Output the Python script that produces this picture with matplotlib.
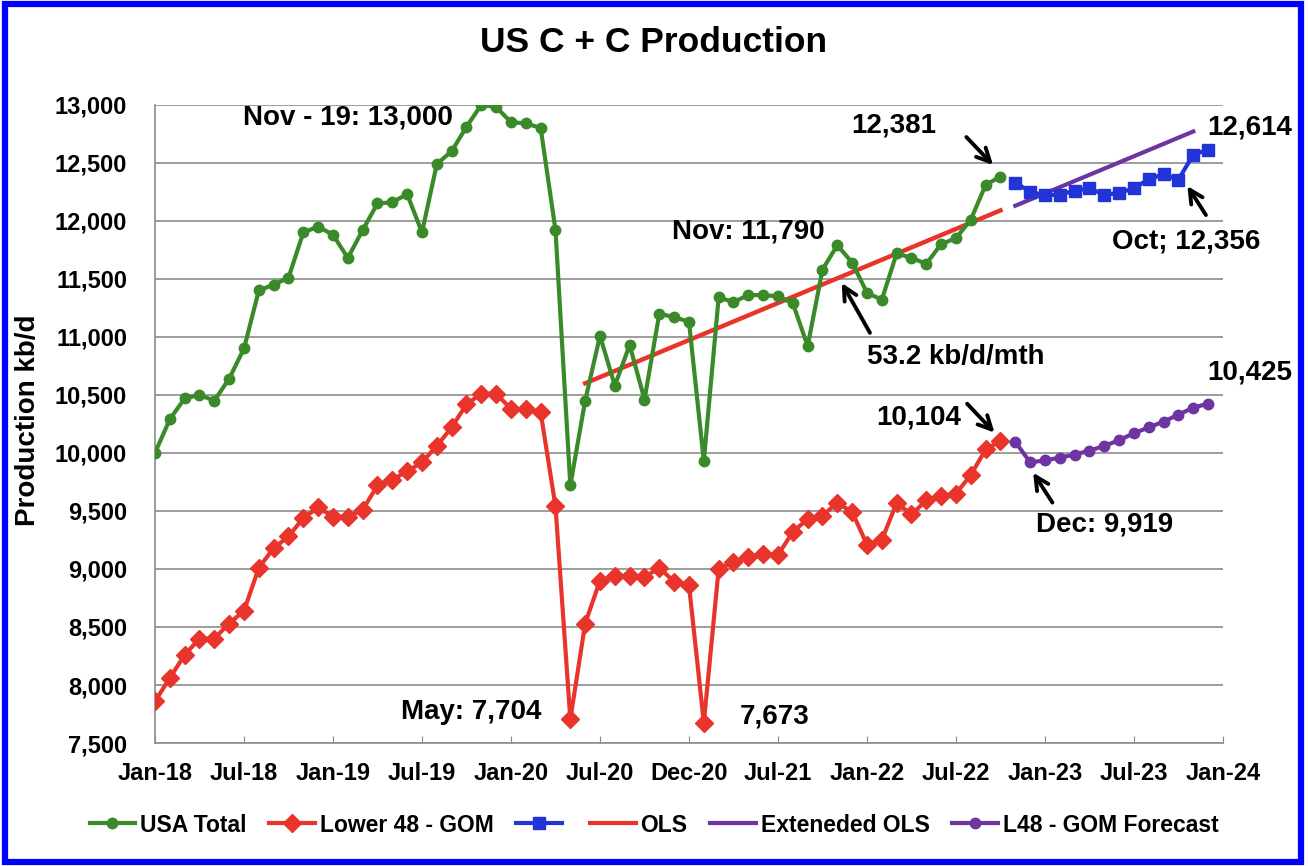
import matplotlib
matplotlib.use('Agg')
import matplotlib.pyplot as plt
from matplotlib.patches import Rectangle
from matplotlib.lines import Line2D

plt.rcParams['font.family'] = ['Liberation Sans', 'DejaVu Sans']
plt.rcParams['font.weight'] = 'bold'

# month index 0 = Jan-18
tick_pos = [0, 6, 12, 18, 24, 30, 36, 42, 48, 54, 60, 66, 72]
tick_labels = ['Jan-18', 'Jul-18', 'Jan-19', 'Jul-19', 'Jan-20', 'Jul-20', 'Dec-20',
               'Jul-21', 'Jan-22', 'Jul-22', 'Jan-23', 'Jul-23', 'Jan-24']

usa_total = [10000, 10290, 10470, 10500, 10450, 10640, 10900, 11400, 11450, 11510,
             11900, 11950, 11880, 11680, 11920, 12150, 12160, 12230, 11900, 12490,
             12600, 12810, 13000, 12980, 12850, 12840, 12800, 11920, 9720, 10450,
             11010, 10580, 10930, 10460, 11200, 11170, 11130, 9930, 11340, 11300,
             11360, 11360, 11350, 11290, 10920, 11580, 11790, 11640, 11380, 11320,
             11720, 11680, 11630, 11800, 11850, 12010, 12310, 12381]

l48_gom = [7860, 8060, 8260, 8400, 8400, 8530, 8640, 9010, 9180, 9280,
           9440, 9530, 9450, 9450, 9510, 9720, 9770, 9840, 9920, 10060,
           10220, 10420, 10510, 10510, 10380, 10375, 10350, 9540, 7704, 8530,
           8900, 8940, 8940, 8930, 9010, 8890, 8860, 7673, 9000, 9060,
           9100, 9130, 9120, 9320, 9430, 9460, 9570, 9490, 9210, 9250,
           9570, 9470, 9590, 9630, 9650, 9810, 10030, 10104]

usa_forecast = [12330, 12250, 12220, 12225, 12260, 12280, 12225, 12240, 12280,
                12360, 12400, 12356, 12570, 12614]
l48_forecast = [10095, 9919, 9935, 9960, 9985, 10020, 10060, 10110, 10170,
                10220, 10270, 10330, 10390, 10425]

# trend line end points
ols_x = [29, 57]
ols_y = [10600, 12090]
ext_x = [58, 70]
ext_y = [12130, 12770]

green = '#3A8A2A'
red = '#E8342A'
blue = '#2233D8'
purple = '#6E35A2'

fig = plt.figure(figsize=(13.08, 8.66), dpi=100)
ax = fig.add_axes([0.1185, 0.142, 0.8165, 0.737])

x_hist = list(range(len(usa_total)))
x_fc = list(range(len(usa_total), len(usa_total) + len(usa_forecast)))

ax.plot(x_hist, usa_total, '-o', color=green, lw=3, ms=7.5, zorder=3)
ax.plot(x_hist, l48_gom, '-D', color=red, lw=3, ms=9, zorder=3)
ax.plot(x_fc, usa_forecast, '-s', color=blue, lw=3, ms=9, zorder=3)
ax.plot(ols_x, ols_y, '-', color=red, lw=3.2, zorder=2)
ax.plot(ext_x, ext_y, '-', color=purple, lw=3, zorder=2)
ax.plot(x_fc, l48_forecast, '-o', color=purple, lw=3, ms=7.5, zorder=3)

ax.set_xlim(0, 72)
ax.set_ylim(7500, 13000)
ax.set_yticks(range(7500, 13001, 500))
ax.set_yticklabels([f'{v:,}' for v in range(7500, 13001, 500)])
ax.set_xticks(tick_pos)
ax.set_xticklabels(tick_labels)
ax.yaxis.grid(True, color='#8C8C8C', lw=1.2)
ax.set_axisbelow(True)
for s in ['top', 'right']:
    ax.spines[s].set_visible(False)
for s in ['left', 'bottom']:
    ax.spines[s].set_color('#8C8C8C')
    ax.spines[s].set_linewidth(1.2)
ax.tick_params(axis='y', length=0, pad=20, labelsize=17)
ax.tick_params(axis='x', direction='in', length=5, color='#8C8C8C', pad=14, labelsize=17)

fig.text(0.5, 1 - 43 / 866, 'US C + C Production', ha='center', va='center',
         fontsize=25.5, fontweight='bold')
fig.text(28 / 1308, 1 - 420 / 866, 'Production kb/d', rotation=90, ha='center',
         va='center', fontsize=20, fontweight='bold')

fs = 20
ax.text(13.0, 12894, 'Nov - 19: 13,000', ha='center', va='center', fontsize=fs)
ax.text(49.8, 12825, '12,381', ha='center', va='center', fontsize=fs)
ax.text(73.8, 12808, '12,614', ha='center', va='center', fontsize=fs)
ax.text(69.5, 11818, 'Oct; 12,356', ha='center', va='center', fontsize=fs)
ax.text(40.0, 11904, 'Nov: 11,790', ha='center', va='center', fontsize=fs)
ax.text(54.0, 10828, '53.2 kb/d/mth', ha='center', va='center', fontsize=fs)
ax.text(51.5, 10304, '10,104', ha='center', va='center', fontsize=fs)
ax.text(73.8, 10691, '10,425', ha='center', va='center', fontsize=fs)
ax.text(64.05, 9383, 'Dec: 9,919', ha='center', va='center', fontsize=fs)
ax.text(21.3, 7765, 'May: 7,704', ha='center', va='center', fontsize=fs)
ax.text(41.8, 7731, '7,673', ha='center', va='center', fontsize=fs)

arrows = [((54.7, 12722), (56.5, 12481)),
          ((70.85, 12050), (69.6, 12300)),
          ((48.2, 11035), (46.3, 11465)),
          ((54.75, 10424), (56.6, 10175)),
          ((60.5, 9572), (59.2, 9830))]
for tail, head in arrows:
    ax.annotate('', xy=head, xytext=tail,
                arrowprops=dict(arrowstyle='->', lw=2.8, color='black',
                                mutation_scale=24, shrinkA=0, shrinkB=0))

handles = [Line2D([], [], color=green, marker='o', lw=3, ms=7.5),
           Line2D([], [], color=red, marker='D', lw=3, ms=9),
           Line2D([], [], color=blue, marker='s', lw=3, ms=9),
           Line2D([], [], color=red, lw=3),
           Line2D([], [], color=purple, lw=3),
           Line2D([], [], color=purple, marker='o', lw=3, ms=7.5)]
labels = ['USA Total', 'Lower 48 - GOM', '', 'OLS', 'Exteneded OLS', 'L48 - GOM Forecast']
fig.legend(handles, labels, loc='center', bbox_to_anchor=(0.5, 1 - 825 / 866),
           ncol=6, frameon=False, fontsize=16.5, handlelength=2.0,
           handletextpad=0.2, columnspacing=1.0)

fig.patches.append(Rectangle((0.004, 0.005), 0.991, 0.99, transform=fig.transFigure,
                             fill=False, edgecolor='#0000FF', lw=4.5))

fig.savefig('out.png', dpi=100, facecolor='white')
